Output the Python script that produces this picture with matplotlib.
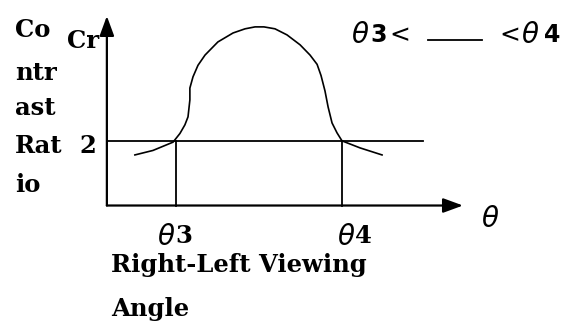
import matplotlib
matplotlib.use("Agg")
import matplotlib.pyplot as plt

# curve (theta in arbitrary units, theta3=-40, theta4=40)
theta = [-59.8, -51.1, -41.4, -38.1, -35.7, -34.2, -33.3, -33.3, -31.8, -29.4,
         -26.0, -19.8, -12.5, -6.7, -1.9, 2.4, 7.7, 13.5, 19.8, 24.6,
         28.0, 29.9, 31.8, 33.3, 35.2, 37.6, 40.0, 48.7, 59.3]
cr = [1.58, 1.72, 1.98, 2.25, 2.52, 2.77, 3.30, 3.67, 4.02, 4.38,
      4.70, 5.11, 5.39, 5.52, 5.58, 5.58, 5.52, 5.33, 5.02, 4.70,
      4.41, 4.06, 3.58, 3.08, 2.58, 2.27, 2.02, 1.80, 1.58]

theta3, theta4 = -40, 40
cr_level = 2
ylabel_lines = ["Co", "ntr", "ast", "Rat", "io"]
xlabel_lines = ["Right-Left Viewing", "Angle"]

W, H = 574, 331
fig = plt.figure(figsize=(W / 100, H / 100), dpi=100)
ax = fig.add_axes([0, 0, 1, 1])
ax.set_xlim(-124.8, 151.8)
ax.set_ylim(-3.92, 6.42)
ax.axis("off")

x0, x_end, y_end, level_end = -73.3, 98.3, 5.92, 79.0

# axes with arrows
arrow = dict(arrowstyle="-|>,head_length=0.6,head_width=0.22", lw=1.6,
             color="black", shrinkA=0, shrinkB=0, mutation_scale=20)
ax.annotate("", xy=(x_end, 0), xytext=(x0, 0), arrowprops=arrow)
ax.annotate("", xy=(x0, y_end), xytext=(x0, 0), arrowprops=arrow)

# threshold line and the two angle markers
ax.plot([x0, level_end], [cr_level, cr_level], color="black", lw=1.3)
ax.plot([theta3, theta3], [0, cr_level], color="black", lw=1.3)
ax.plot([theta4, theta4], [0, cr_level], color="black", lw=1.3)

# contrast curve
ax.plot(theta, cr, color="black", lw=1.2, solid_joinstyle="round")

serif = dict(family="DejaVu Serif", weight="bold", fontsize=17.5)
th = dict(family="DejaVu Sans", style="italic", fontsize=20)
sans_b = dict(family="DejaVu Sans", weight="bold", fontsize=17)


def put(px, py, s, **kw):
    fig.text(px / W, 1 - py / H, s, ha="left", va="baseline", **kw)


for s, base in zip(ylabel_lines, [37, 80, 115, 153, 192]):
    put(15, base, s, **serif)
put(67, 48, "Cr", **serif)
put(79, 153, "2", **serif)

put(157, 245, "θ", **th)
put(175, 243, "3", **serif)
put(337, 245, "θ", **th)
put(355, 243, "4", **serif)
put(481, 227, "θ", **th)

put(111, 272, xlabel_lines[0], **serif)
put(111, 316, xlabel_lines[1], **serif)

# condition text at the top right
put(351, 43, "θ", **th)
put(370, 42, "3", **sans_b)
put(389, 42, "<", family="DejaVu Sans", fontsize=18)
ax.plot([(428 - 259) / 2.075, (482 - 259) / 2.075], [(205.5 - 40) / 32] * 2,
        color="black", lw=1.3)
put(499, 42, "<", family="DejaVu Sans", fontsize=18)
put(521, 43, "θ", **th)
put(544, 42, "4", **sans_b)

fig.savefig("out.png", dpi=100, facecolor="white")
